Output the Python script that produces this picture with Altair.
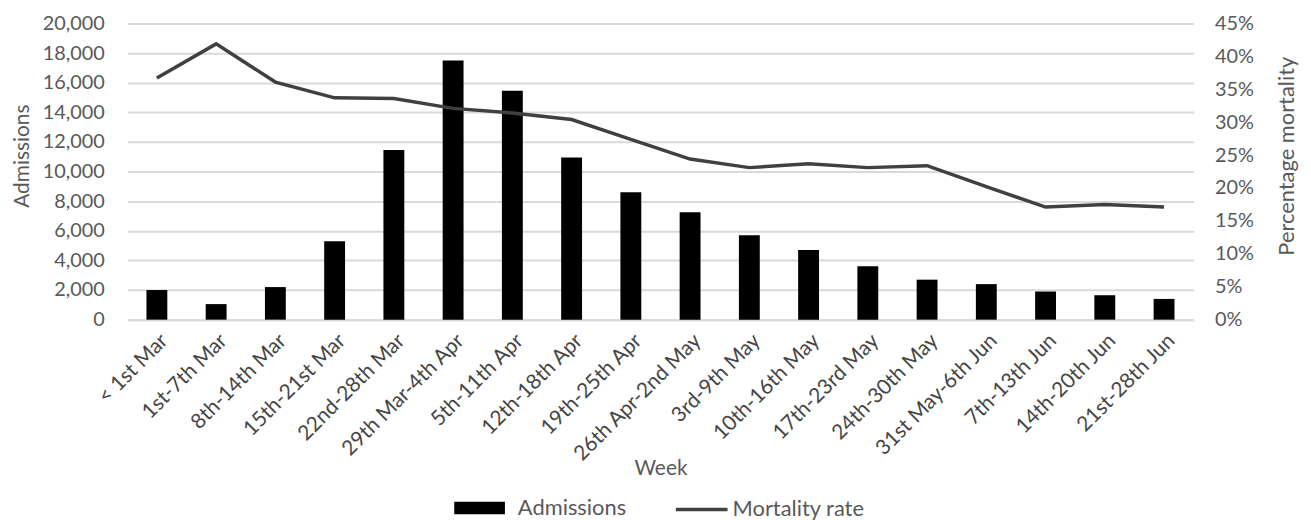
import altair as alt
import pandas as pd

weeks = ["< 1st Mar", "1st-7th Mar", "8th-14th Mar", "15th-21st Mar", "22nd-28th Mar",
         "29th Mar-4th Apr", "5th-11th Apr", "12th-18th Apr", "19th-25th Apr",
         "26th Apr-2nd May", "3rd-9th May", "10th-16th May", "17th-23rd May",
         "24th-30th May", "31st May-6th Jun", "7th-13th Jun", "14th-20th Jun", "21st-28th Jun"]
admissions = [2000, 1050, 2200, 5300, 11450, 17500, 15450, 10950, 8600, 7250,
              5700, 4700, 3600, 2700, 2400, 1900, 1650, 1400]
mortality = [0.367, 0.419, 0.361, 0.337, 0.336, 0.321, 0.314, 0.304, 0.274, 0.244,
             0.231, 0.237, 0.231, 0.234, 0.202, 0.171, 0.175, 0.171]

df = pd.DataFrame({"Week": weeks, "Admissions": admissions, "Mortality": mortality})

FONT = "Lato"
TXT = "#595959"

x = alt.X("Week:N", sort=weeks,
          scale=alt.Scale(paddingInner=0, paddingOuter=0),
          axis=alt.Axis(title="Week", labelAngle=-45, labelFontSize=21, labelFont=FONT,
                        labelColor="#454545", ticks=False, tickSize=0, labelPadding=10,
                        labelLimit=300,
                        domain=True, domainColor="#d9d9d9", domainWidth=2,
                        titleFont=FONT, titleFontSize=21, titleColor=TXT,
                        titleFontWeight="normal", titleY=150, titleBaseline="middle",
                        grid=False))

bars = alt.Chart(df).transform_calculate(s='"Admissions"').mark_bar(size=21, color="black").encode(
    x=x,
    y=alt.Y("Admissions:Q", scale=alt.Scale(domain=[0, 20000]),
            axis=alt.Axis(title="Admissions", values=list(range(0, 20001, 2000)), format=",.0f",
                          labelFontSize=20, labelFont=FONT, labelColor=TXT, ticks=False,
                          tickSize=0, labelPadding=23, domain=False, grid=True,
                          gridColor="#d9d9d9", gridWidth=2, titleFont=FONT, titleFontSize=21,
                          titleColor=TXT, titleFontWeight="normal", titlePadding=10,
                          titleY=133)),
    fill=alt.Fill("s:N", scale=alt.Scale(domain=["Admissions"], range=["black"]),
                  legend=alt.Legend(title=None, orient="none", legendX=329, legendY=462,
                                    symbolType="M-1,-0.245L1,-0.245L1,0.245L-1,0.245Z",
                                    symbolSize=2601, symbolStrokeWidth=0, labelOffset=13,
                                    labelFont=FONT, labelFontSize=22, labelColor=TXT,
                                    padding=0)),
)

line = alt.Chart(df).transform_calculate(s='"Mortality rate"').mark_line(strokeWidth=3.5).encode(
    x=x,
    y=alt.Y("Mortality:Q", scale=alt.Scale(domain=[0, 0.45]),
            axis=alt.Axis(title="Percentage mortality", orient="right", format=".0%",
                          values=[i / 100 for i in range(0, 46, 5)],
                          labelFontSize=20, labelFont=FONT, labelColor=TXT, ticks=False,
                          tickSize=0, labelPadding=21, domain=False, grid=False,
                          titleFont=FONT, titleFontSize=22, titleColor=TXT,
                          titleFontWeight="normal", titleAngle=270, titleX=93, titleY=133,
                          titleAlign="center", titleBaseline="middle")),
    stroke=alt.Stroke("s:N", scale=alt.Scale(domain=["Mortality rate"], range=["#404040"]),
                      legend=alt.Legend(title=None, orient="none", legendX=550, legendY=461,
                                        symbolType="stroke", symbolSize=2704,
                                        symbolStrokeWidth=3.5, labelOffset=3,
                                        labelFont=FONT, labelFontSize=22, labelColor=TXT,
                                        padding=0)),
)

chart = alt.layer(bars, line).resolve_scale(y="independent", fill="independent",
                                            stroke="independent").properties(
    width=1073, height=298,
    autosize=alt.AutoSizeParams(type="none"),
    padding={"left": 120, "top": 14, "right": 110, "bottom": 200},
    background="white",
).configure_view(stroke=None)

chart.save("out.html", embed_options={"renderer": "svg", "actions": False})
